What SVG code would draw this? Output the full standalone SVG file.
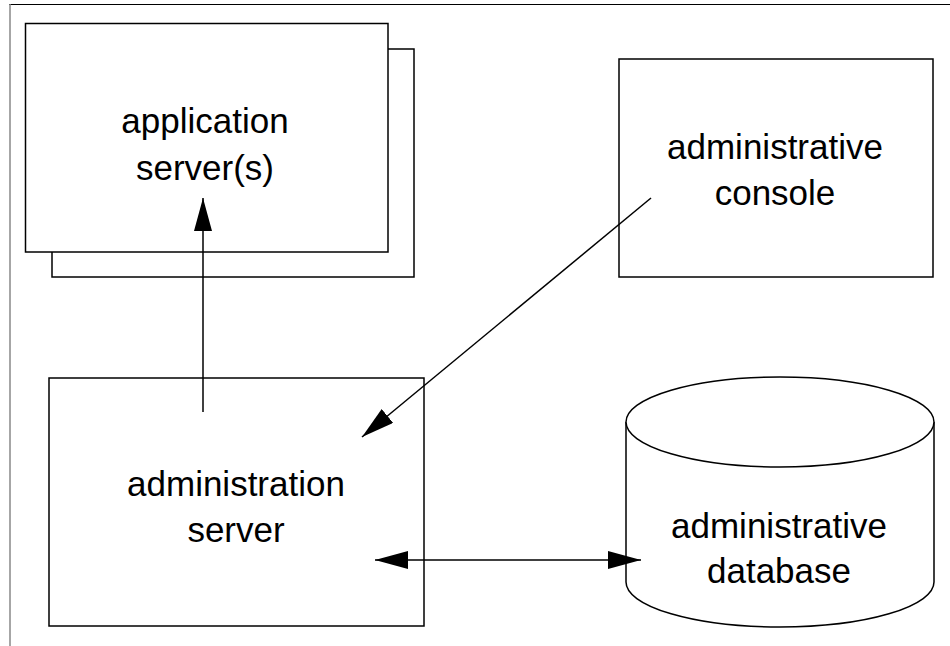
<svg xmlns="http://www.w3.org/2000/svg" width="950" height="646" viewBox="0 0 950 646">
<defs>
<style>
.box{fill:#fff;stroke:#000;stroke-width:1.5}
.lbl{font-family:"Liberation Sans",Arial,Helvetica,sans-serif;font-size:35px;fill:#000;text-anchor:middle}
.conn{fill:none;stroke:#000;stroke-width:1.5}
</style>
<marker id="ah" markerUnits="userSpaceOnUse" markerWidth="34" markerHeight="20" refX="33" refY="9" orient="auto-start-reverse">
<path d="M0,0 L33,9 L0,18 z" fill="#000"/>
</marker>
</defs>
<rect width="950" height="646" fill="#fff"/>
<g id="frame">
<line x1="9" y1="4.5" x2="950" y2="4.5" stroke="#000" stroke-width="1"/>
<line x1="10" y1="4" x2="10" y2="646" stroke="#888" stroke-width="1.5"/>
</g>
<g id="app-server">
<rect class="box" x="52" y="49" width="362" height="228"/>
<rect class="box" x="25.5" y="23.5" width="362.5" height="228.5"/>
<text class="lbl" x="205" y="133">application</text>
<text class="lbl" x="205" y="180">server(s)</text>
</g>
<g id="admin-console">
<rect class="box" x="619" y="59" width="314" height="218"/>
<text class="lbl" x="775" y="159">administrative</text>
<text class="lbl" x="775" y="205">console</text>
</g>
<g id="admin-server">
<rect class="box" x="49" y="378" width="375" height="248"/>
<text class="lbl" x="236" y="496">administration</text>
<text class="lbl" x="236" y="542">server</text>
</g>
<g id="admin-database">
<path class="box" d="M626,422 L626,582 A154,45 0 0 0 934,582 L934,422"/>
<ellipse class="box" cx="780" cy="422" rx="154" ry="45"/>
<text class="lbl" x="779" y="538">administrative</text>
<text class="lbl" x="779" y="583">database</text>
</g>
<g id="connectors">
<line class="conn" x1="203" y1="412" x2="203" y2="198" marker-end="url(#ah)"/>
<line class="conn" x1="651" y1="198" x2="362" y2="437" marker-end="url(#ah)"/>
<line class="conn" x1="375" y1="560" x2="641" y2="560" marker-start="url(#ah)" marker-end="url(#ah)"/>
</g>
</svg>
